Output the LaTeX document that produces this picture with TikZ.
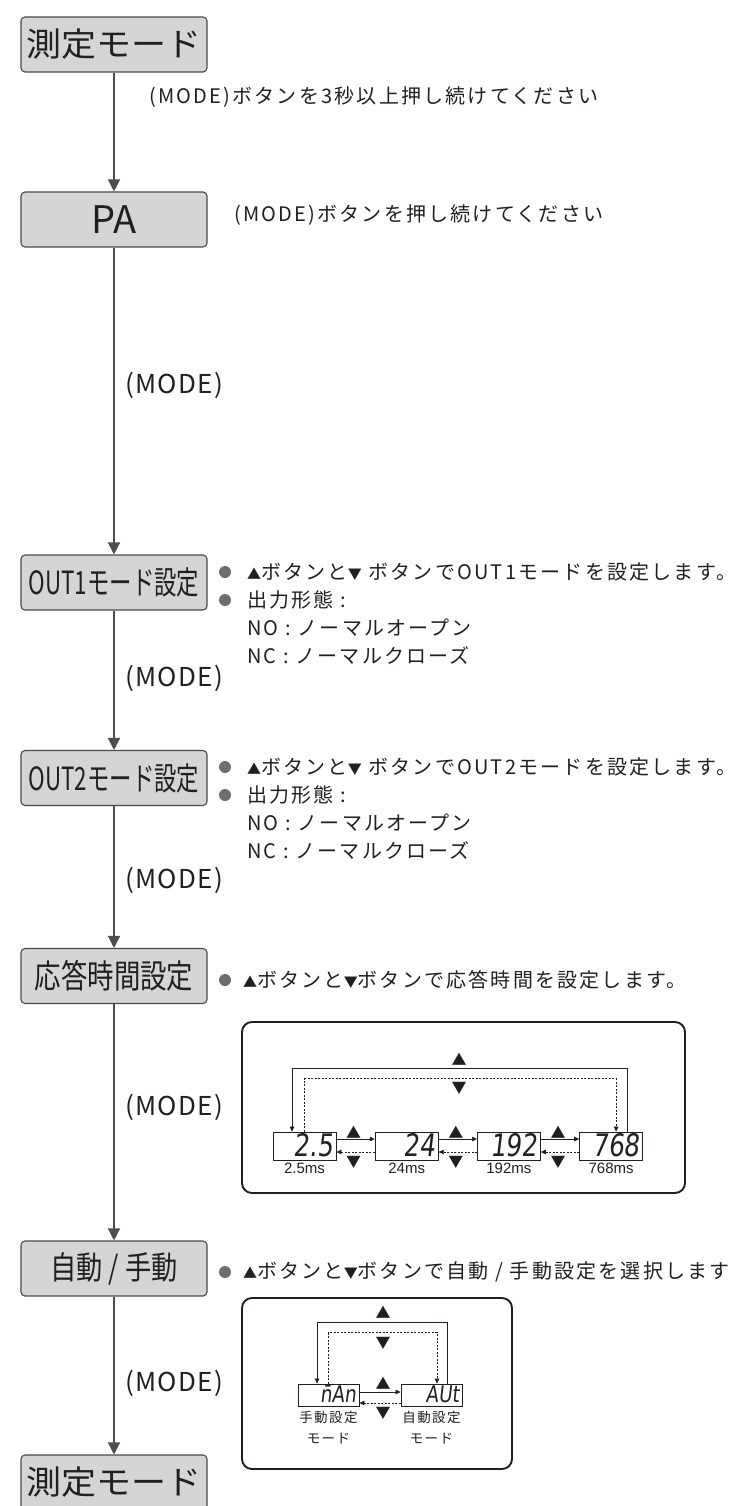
\documentclass[tikz,border=0pt]{standalone}
\usepackage{graphicx}
\usepackage{fontspec}
\setmainfont{Noto Sans CJK JP}
\newfontfamily\spacedfont{Noto Sans CJK JP}[LetterSpace=11]
\newfontfamily\modefont{Noto Sans CJK JP}[LetterSpace=5]
\newfontfamily\segfont{DejaVu Sans}[FakeSlant=0.12,FakeStretch=0.8]
\newfontfamily\labelfont{Liberation Sans}
\usepackage{tikz}
\usetikzlibrary{positioning}
\usetikzlibrary{arrows.meta}
\usetikzlibrary{calc}

\definecolor{boxfill}{HTML}{D4D5D7}
\definecolor{boxedge}{HTML}{4A4A4A}
\definecolor{flowline}{HTML}{4D4D4D}
\definecolor{ink}{HTML}{231F20}
\definecolor{dotgray}{HTML}{6D6E71}

\newcommand{\upkey}{{\fontsize{14}{14}\selectfont ▲}}
\newcommand{\downkey}{{\fontsize{14}{14}\selectfont ▼}}

\begin{document}
\begin{tikzpicture}[x=1pt, y=-1pt, text=ink,
  modebox/.style={draw=boxedge, fill=boxfill, line width=1.1pt, rounded corners=4pt,
    minimum width=186pt, minimum height=55pt, inner sep=0pt},
  flow/.style={draw=flowline, line width=1.3pt, -{Triangle[length=12pt,width=12pt]}},
  note/.style={anchor=west, inner sep=0pt, font=\spacedfont\fontsize{20}{24}\selectfont},
  bulletdot/.style={circle, fill=dotgray, inner sep=0pt, minimum size=12pt},
  modelabel/.style={anchor=west, inner sep=0pt, font=\modefont\fontsize{26}{28}\selectfont},
  panel/.style={draw=ink, line width=1.9pt, rounded corners=10pt},
  lcd/.style={draw=ink, fill=white, line width=0.8pt, minimum height=28pt, text width=57pt,
    align=right, inner xsep=3pt, inner ysep=0pt, text height=23pt, text depth=2pt,
    font=\segfont\fontsize{31}{31}\selectfont},
  lcdsmall/.style={lcd, minimum height=22pt, text width=55pt, text height=17pt, text depth=2pt,
    font=\segfont\fontsize{23}{23}\selectfont},
  btnmark/.style={inner sep=0pt, font=\fontsize{15}{15}\selectfont},
  timelabel/.style={inner sep=1pt, font=\labelfont\fontsize{15}{15}\selectfont},
  modename/.style={inner sep=1pt, align=center, font=\spacedfont\fontsize{13.5}{21}\selectfont},
  fwd/.style={draw=ink, line width=0.7pt, -{Triangle[length=5pt,width=4.5pt]}},
  backstep/.style={fwd, dash pattern=on 2pt off 1.5pt}
]
\useasboundingbox (0,0) rectangle (734,1506);

 %main flow
 \foreach \n/\y/\f/\s/\txt in {1/44.5/33/1.06/{測定モード}, 2/219.5/38/1/{PA},
     3/582.5/32/0.7/{OUT1モード設定}, 4/778/32/0.7/{OUT2モード設定},
     5/976/33/0.8/{応答時間設定}, 6/1268.5/32/0.82/{自動 / 手動}, 7/1482.5/33/1.06/{測定モード}} {
   \node[modebox] (b\n) at (114,\y) {\scalebox{\s}[1]{\fontsize{\f}{\f}\selectfont \txt}};
 }
 \foreach \a/\b in {1/2, 2/3, 3/4, 4/5, 5/6, 6/7} {
   \draw[flow] (b\a) -- (b\b);
 }

 \foreach \n/\y in {1/385, 2/678, 3/880, 4/1107, 5/1383} {
   \node[modelabel] (m\n) at (125,\y) {(MODE)};
 }

 %notes
 \node[note] (t1) at (149,97) {(MODE)ボタンを3秒以上押し続けてください};
 \node[note] (t2) at (234,215) {(MODE)ボタンを押し続けてください};

 \foreach \m/\dy in {1/0, 2/195} {
   \node[bulletdot] (p\m a) at (225,{572+\dy}) {};
   \node[bulletdot] (p\m b) at (225,{600+\dy}) {};
   \node[note] (o\m a) at (247,{572+\dy}) {\upkey ボタンと\downkey\ ボタンでOUT\m モードを設定します。};
   \node[note] (o\m b) at (247,{600+\dy}) {出力形態 :};
   \node[note] (o\m c) at (247,{628+\dy}) {NO : ノーマルオープン};
   \node[note] (o\m d) at (247,{655+\dy}) {NC : ノーマルクローズ};
 }

 \node[bulletdot] (p3) at (225,980) {};
 \node[note] (o3) at (243,980) {\upkey ボタンと\downkey ボタンで応答時間を設定します。};
 \node[bulletdot] (p4) at (225,1272) {};
 \node[note] (o4) at (243,1272) {\upkey ボタンと\downkey ボタンで自動 / 手動設定を選択します};

 %response time
 \draw[panel] (242,1022) rectangle (685,1193);
 \foreach \i/\val/\name in {0/2.5/2.5ms, 1/24/24ms, 2/192/192ms, 3/768/768ms} {
   \node[lcd] (d\i) at ({304.5+102.2*\i},1146) {\val};
   \node[timelabel, below=1.5pt of d\i] (l\i) {\name};
 }
 \foreach \i/\j in {0/1, 1/2, 2/3} {
   \draw[fwd] ([yshift=7pt]d\i.east) -- ([yshift=7pt]d\j.west);
   \draw[backstep] ([yshift=-6pt]d\j.west) -- ([yshift=-6pt]d\i.east);
   \node[btnmark] (u\i) at ($(d\i.east)!0.5!(d\j.west)+(-2,-14)$) {▲};
   \node[btnmark] (v\i) at ($(d\i.east)!0.5!(d\j.west)+(-2,16)$) {▼};
 }
 \draw[fwd] ([xshift=16pt]d3.north) -- ++(0,-63) -| ([xshift=-12.5pt]d0.north);
 \draw[backstep] (d0.north) -- ++(0,-53) -| ([xshift=5pt]d3.north);
 \node[btnmark] (ua) at (459,1059) {▲};
 \node[btnmark] (va) at (459,1088) {▼};

 %auto / manual
 \draw[panel] (242,1298) rectangle (512,1469);
 \node[lcdsmall] (n0) at (328.5,1395) {\=nAn};
 \node[lcdsmall] (n1) at (431.5,1395) {AUt};
 \node[modename, below=4pt of n0] (k0) {手動設定\\モード};
 \node[modename, below=4pt of n1] (k1) {自動設定\\モード};
 \draw[fwd] ([yshift=3pt]n0.east) -- ([yshift=3pt]n1.west);
 \draw[backstep] ([yshift=-8pt]n1.west) -- ([yshift=-8pt]n0.east);
 \node[btnmark] (ub) at (383,1383) {▲};
 \node[btnmark] (vb) at (383,1413) {▼};
 \draw[fwd] ([xshift=15.5pt]n1.north) -- ++(0,-61) -| ([xshift=-11.5pt]n0.north);
 \draw[backstep] (n0.north) -- ++(0,-51) -| ([xshift=5.5pt]n1.north);
 \node[btnmark] (uc) at (383,1312) {▲};
 \node[btnmark] (vc) at (383,1343) {▼};

\end{tikzpicture}
\end{document}
